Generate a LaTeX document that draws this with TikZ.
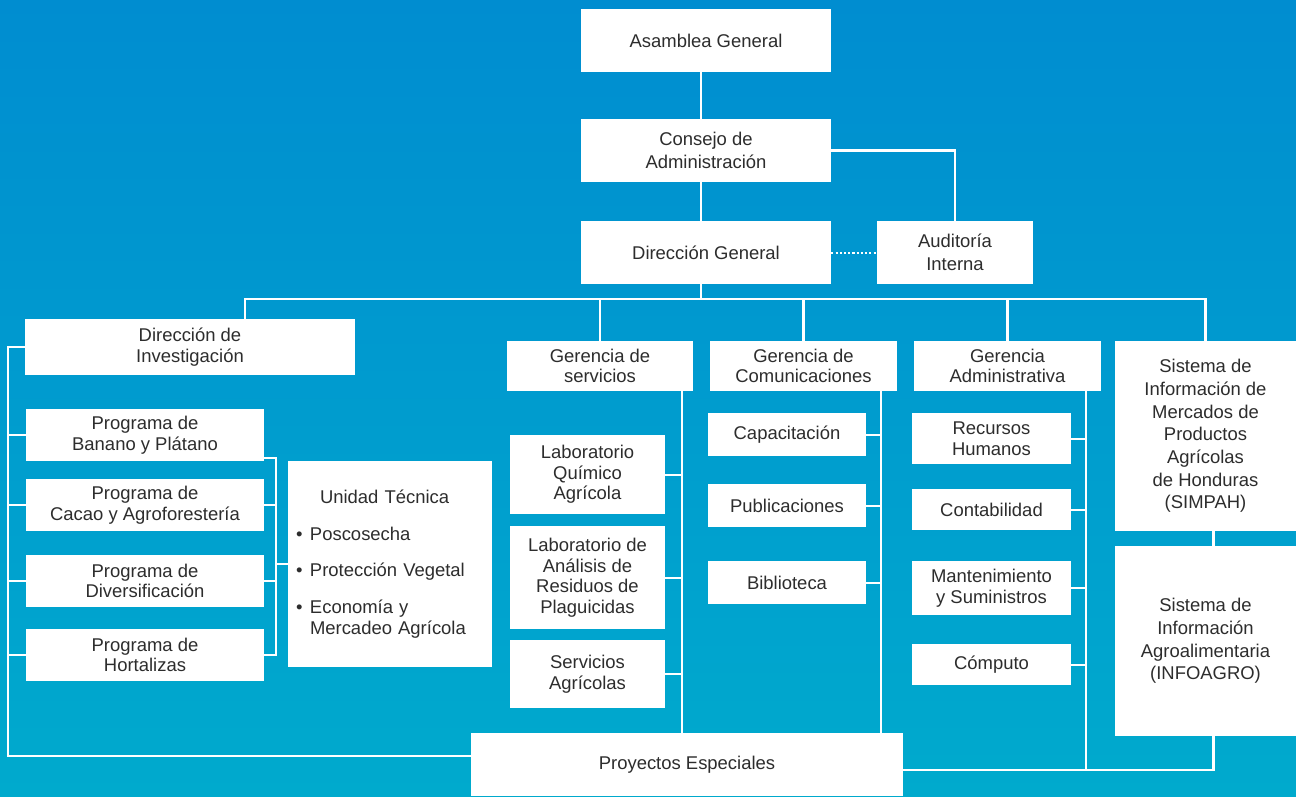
\documentclass[tikz,border=0pt]{standalone}
\usepackage{fontspec}
\setmainfont{Liberation Sans}
\usetikzlibrary{calc}

\definecolor{bgtop}{RGB}{0,141,208}
\definecolor{bgbot}{RGB}{0,170,205}
\definecolor{txtgray}{RGB}{45,45,45}
\newlength\px
\setlength\px{0.02cm}

\tikzset{
    box/.style={fill=white, text=txtgray, align=center, inner sep=0pt, font=\fontsize{10.5}{11.7}\selectfont},
    loose/.style={font=\fontsize{10.5}{12.9}\selectfont},
    sz/.style 2 args={minimum width=#1*0.02cm, minimum height=#2*0.02cm},
    link/.style={draw=white, line width=1.15pt},
}

\begin{document}
\begin{tikzpicture}[x=0.02cm, y=-0.02cm]
    % background
    \shade[top color=bgtop, bottom color=bgbot] (0,0) rectangle (1296,796);

    % top of the chart
    \node[box, sz={250}{63}] (asamblea) at (706,40.5) {Asamblea General};
    \node[box, loose, sz={250}{63}] (consejo) at (706,150.5) {Consejo de\\Administración};
    \node[box, sz={250}{63}] (direccion) at (706,252.5) {Dirección General};
    \node[box, loose, sz={156}{63}] (auditoria) at (955,252.5) {Auditoría\\Interna};

    % second level
    \node[box, sz={330}{56}] (dirinv) at (190,347) {Dirección de\\Investigación};
    \node[box, sz={186}{50}] (gserv) at (600,366) {Gerencia de\\servicios};
    \node[box, sz={187}{50}] (gcom) at (803.5,366) {Gerencia de\\Comunicaciones};
    \node[box, sz={187}{50}] (gadm) at (1007.5,366) {Gerencia\\Administrativa};
    \node[box, loose, sz={181}{190}] (simpah) at (1205.5,436) {Sistema de\\Información de\\Mercados de\\Productos\\Agrícolas\\de Honduras\\(SIMPAH)};
    \node[box, loose, sz={181}{190}] (infoagro) at (1205.5,641) {Sistema de\\Información\\Agroalimentaria\\(INFOAGRO)};

    % investigacion
    \node[box, sz={238}{52}] (pbanano) at (145,435) {Programa de\\Banano y Plátano};
    \node[box, sz={238}{52}] (pcacao) at (145,505) {Programa de\\Cacao y Agroforestería};
    \node[box, sz={238}{52}] (pdiv) at (145,581) {Programa de\\Diversificación};
    \node[box, sz={238}{52}] (phort) at (145,655) {Programa de\\Hortalizas};
    \node[box, sz={204}{206}, text width=107pt, align=left] (ut) at (390,564) {%
        \hspace*{24\px}Unidad Técnica\\[9.2pt]
        \makebox[14\px][l]{•}Poscosecha\\[9.2pt]
        \makebox[14\px][l]{•}Protección Vegetal\\[9.2pt]
        \makebox[14\px][l]{•}Economía y\\
        \hspace*{14\px}Mercadeo Agrícola};

    % servicios
    \node[box, sz={155}{79}] (labq) at (587.5,474.5) {Laboratorio\\Químico\\Agrícola};
    \node[box, sz={155}{103}] (labres) at (587.5,577.5) {Laboratorio de\\Análisis de\\Residuos de\\Plaguicidas};
    \node[box, sz={155}{68}] (servagr) at (587.5,674) {Servicios\\Agrícolas};

    % comunicaciones
    \node[box, sz={158}{43}] (capac) at (787,434.5) {Capacitación};
    \node[box, sz={158}{43}] (publ) at (787,505.5) {Publicaciones};
    \node[box, sz={158}{43}] (biblio) at (787,582.5) {Biblioteca};

    % administrativa
    \node[box, sz={159}{51}] (rrhh) at (991.5,438.5) {Recursos\\Humanos};
    \node[box, sz={159}{41}] (conta) at (991.5,509.5) {Contabilidad};
    \node[box, sz={159}{54}] (mant) at (991.5,588) {Mantenimiento\\y Suministros};
    \node[box, sz={159}{41}] (computo) at (991.5,664.5) {Cómputo};

    \node[box, sz={432}{63}] (proyectos) at (687,764.5) {Proyectos Especiales};

    % spines
    \coordinate (spine) at (701,0);
    \coordinate (busL) at (245,299);
    \coordinate (invspine) at (8,0);
    \coordinate (utspine) at (276,0);
    \coordinate (servspine) at (682,0);
    \coordinate (comspine) at (881,0);
    \coordinate (admspine) at (1086,0);
    \coordinate (botline) at ($(proyectos.east)+(0,5)$);

    \draw[link] (spine |- asamblea.south) -- (spine |- consejo.north);
    \draw[link] (spine |- consejo.south) -- (spine |- direccion.north);
    \draw[link] (spine |- direccion.south) -- (spine |- busL);
    \draw[link] (consejo.east) -| (auditoria.north);
    \draw[link, line cap=butt, dash pattern=on 1.2pt off 1.2pt] (direccion.east) -- (auditoria.west);

    % bus
    \draw[link] (busL |- dirinv.north) |- (simpah.north |- busL) -- (simpah.north);
    \foreach \g in {gserv,gcom,gadm}
        \draw[link] (\g.north |- busL) -- (\g.north);

    % investigacion
    \draw[link] (dirinv.west) -- (dirinv.west -| invspine) |- ($(proyectos.west)+(0,-9)$);
    \foreach \p in {pbanano,pcacao,pdiv,phort}
        \draw[link] (\p.west) -- (\p.west -| invspine);
    \draw[link] ($(pbanano.south east)+(0,-3)$) -| (utspine |- phort.east) -- (phort.east);
    \draw[link] (pcacao.east) -- (pcacao.east -| utspine);
    \draw[link] (pdiv.east) -- (pdiv.east -| utspine);
    \draw[link] (ut.west -| utspine) -- (ut.west);

    % servicios
    \draw[link] (servspine |- gserv.south) -- (servspine |- proyectos.north);
    \foreach \n in {labq,labres,servagr}
        \draw[link] (\n.east) -- (\n.east -| servspine);

    % comunicaciones
    \draw[link] (comspine |- gcom.south) -- (comspine |- proyectos.north);
    \foreach \n in {capac,publ,biblio}
        \draw[link] (\n.east) -- (\n.east -| comspine);

    % administrativa
    \draw[link] (admspine |- gadm.south) -- (admspine |- botline);
    \foreach \n in {rrhh,conta,mant,computo}
        \draw[link] (\n.east) -- (\n.east -| admspine);

    % sistemas
    \draw[link] ($(simpah.south)+(8,0)$) -- ($(infoagro.north)+(8,0)$);
    \draw[link] (botline) -| ($(infoagro.south)+(8,0)$);
\end{tikzpicture}
\end{document}
